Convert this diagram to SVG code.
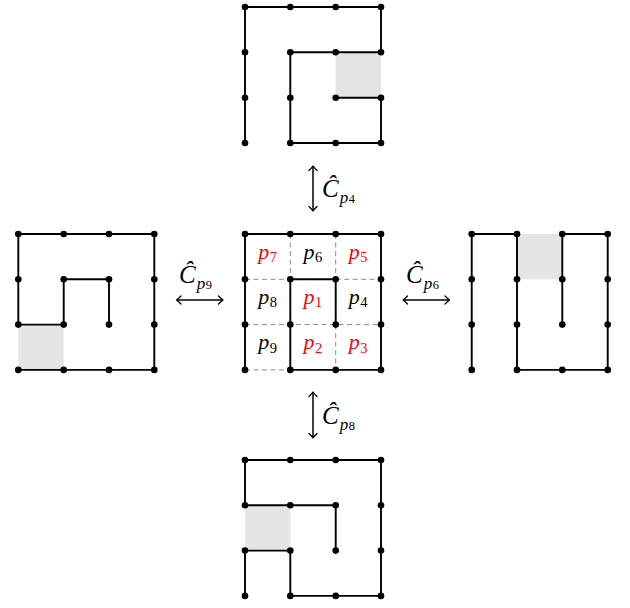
<svg xmlns="http://www.w3.org/2000/svg" width="630" height="608" viewBox="0 0 630 608">
<style>
.path{fill:none;stroke:#000;stroke-width:1.9;stroke-linejoin:miter;stroke-linecap:butt}
.dash{fill:none;stroke:#808080;stroke-width:0.9;stroke-dasharray:5 3.5}
.shade{fill:#e5e5e5}
.dot{fill:#000}
.arr{fill:none;stroke:#000;stroke-width:1.5}
.head{fill:none;stroke:#000;stroke-width:1.3;stroke-linecap:round;stroke-linejoin:round}
.lab{font-family:"Liberation Serif","DejaVu Serif",serif;font-size:22px}
.big{font-family:"Liberation Serif","DejaVu Serif",serif;font-size:25px}
.red{fill:#f00}
.blk{fill:#000}
</style>
<defs>
<circle id="d" r="3.3" class="dot"/>
</defs>
<rect width="630" height="608" fill="#fff"/>

<g id="top">
<rect class="shade" x="335.7" y="52.3" width="45.3" height="45.4"/>
<polyline class="path" points="245,143 245,7 381,7 381,52.3 290.3,52.3 290.3,143 381,143 381,97.7 335.7,97.7"/>
<g>
<use href="#d" x="245" y="7"/><use href="#d" x="290.3" y="7"/><use href="#d" x="335.7" y="7"/><use href="#d" x="381" y="7"/>
<use href="#d" x="245" y="52.3"/><use href="#d" x="290.3" y="52.3"/><use href="#d" x="335.7" y="52.3"/><use href="#d" x="381" y="52.3"/>
<use href="#d" x="245" y="97.7"/><use href="#d" x="290.3" y="97.7"/><use href="#d" x="335.7" y="97.7"/><use href="#d" x="381" y="97.7"/>
<use href="#d" x="245" y="143"/><use href="#d" x="290.3" y="143"/><use href="#d" x="335.7" y="143"/><use href="#d" x="381" y="143"/>
</g>
</g>

<g id="center">
<path class="dash" d="M290.3,234V279.3M335.7,234V279.3M245,279.3H290.3M335.7,279.3H381M245,324.6H381M335.7,324.6V369.9M245,369.9H290.3"/>
<polyline class="path" points="245,369.9 245,234 381,234 381,369.9 290.3,369.9 290.3,279.3 335.7,279.3 335.7,324.6"/>
<g>
<use href="#d" x="245" y="234"/><use href="#d" x="290.3" y="234"/><use href="#d" x="335.7" y="234"/><use href="#d" x="381" y="234"/>
<use href="#d" x="245" y="279.3"/><use href="#d" x="290.3" y="279.3"/><use href="#d" x="335.7" y="279.3"/><use href="#d" x="381" y="279.3"/>
<use href="#d" x="245" y="324.6"/><use href="#d" x="290.3" y="324.6"/><use href="#d" x="335.7" y="324.6"/><use href="#d" x="381" y="324.6"/>
<use href="#d" x="245" y="369.9"/><use href="#d" x="290.3" y="369.9"/><use href="#d" x="335.7" y="369.9"/><use href="#d" x="381" y="369.9"/>
</g>
<g class="lab">
<text class="red" x="267.5" y="258.7" text-anchor="middle"><tspan font-style="italic">p</tspan><tspan font-size="14.5" dx="0.5" dy="3.3">7</tspan></text>
<text class="blk" x="312.8" y="258.7" text-anchor="middle"><tspan font-style="italic">p</tspan><tspan font-size="14.5" dx="0.5" dy="3.3">6</tspan></text>
<text class="red" x="358.1" y="258.7" text-anchor="middle"><tspan font-style="italic">p</tspan><tspan font-size="14.5" dx="0.5" dy="3.3">5</tspan></text>
<text class="blk" x="267.5" y="304" text-anchor="middle"><tspan font-style="italic">p</tspan><tspan font-size="14.5" dx="0.5" dy="3.3">8</tspan></text>
<text class="red" x="312.8" y="304" text-anchor="middle"><tspan font-style="italic">p</tspan><tspan font-size="14.5" dx="0.5" dy="3.3">1</tspan></text>
<text class="blk" x="358.1" y="304" text-anchor="middle"><tspan font-style="italic">p</tspan><tspan font-size="14.5" dx="0.5" dy="3.3">4</tspan></text>
<text class="blk" x="267.5" y="349.3" text-anchor="middle"><tspan font-style="italic">p</tspan><tspan font-size="14.5" dx="0.5" dy="3.3">9</tspan></text>
<text class="red" x="312.8" y="349.3" text-anchor="middle"><tspan font-style="italic">p</tspan><tspan font-size="14.5" dx="0.5" dy="3.3">2</tspan></text>
<text class="red" x="358.1" y="349.3" text-anchor="middle"><tspan font-style="italic">p</tspan><tspan font-size="14.5" dx="0.5" dy="3.3">3</tspan></text>
</g>
</g>

<g id="left">
<rect class="shade" x="18.3" y="324.6" width="45.4" height="45.3"/>
<polyline class="path" points="109,324.6 109,279.3 63.7,279.3 63.7,324.6 18.3,324.6 18.3,234 154.3,234 154.3,369.9 18.3,369.9"/>
<g>
<use href="#d" x="18.3" y="234"/><use href="#d" x="63.7" y="234"/><use href="#d" x="109" y="234"/><use href="#d" x="154.3" y="234"/>
<use href="#d" x="18.3" y="279.3"/><use href="#d" x="63.7" y="279.3"/><use href="#d" x="109" y="279.3"/><use href="#d" x="154.3" y="279.3"/>
<use href="#d" x="18.3" y="324.6"/><use href="#d" x="63.7" y="324.6"/><use href="#d" x="109" y="324.6"/><use href="#d" x="154.3" y="324.6"/>
<use href="#d" x="18.3" y="369.9"/><use href="#d" x="63.7" y="369.9"/><use href="#d" x="109" y="369.9"/><use href="#d" x="154.3" y="369.9"/>
</g>
</g>

<g id="right">
<rect class="shade" x="517" y="234" width="45.3" height="45.3"/>
<polyline class="path" points="471.7,369.9 471.7,234 517,234 517,369.9 607.7,369.9 607.7,234 562.3,234 562.3,324.6"/>
<g>
<use href="#d" x="471.7" y="234"/><use href="#d" x="517" y="234"/><use href="#d" x="562.3" y="234"/><use href="#d" x="607.7" y="234"/>
<use href="#d" x="471.7" y="279.3"/><use href="#d" x="517" y="279.3"/><use href="#d" x="562.3" y="279.3"/><use href="#d" x="607.7" y="279.3"/>
<use href="#d" x="471.7" y="324.6"/><use href="#d" x="517" y="324.6"/><use href="#d" x="562.3" y="324.6"/><use href="#d" x="607.7" y="324.6"/>
<use href="#d" x="471.7" y="369.9"/><use href="#d" x="517" y="369.9"/><use href="#d" x="562.3" y="369.9"/><use href="#d" x="607.7" y="369.9"/>
</g>
</g>

<g id="bottom">
<rect class="shade" x="245" y="505.3" width="45.3" height="45.3"/>
<polyline class="path" points="245,595.9 245,550.6 290.3,550.6 290.3,595.9 381,595.9 381,460 245,460 245,505.3 335.7,505.3 335.7,550.6"/>
<g>
<use href="#d" x="245" y="460"/><use href="#d" x="290.3" y="460"/><use href="#d" x="335.7" y="460"/><use href="#d" x="381" y="460"/>
<use href="#d" x="245" y="505.3"/><use href="#d" x="290.3" y="505.3"/><use href="#d" x="335.7" y="505.3"/><use href="#d" x="381" y="505.3"/>
<use href="#d" x="245" y="550.6"/><use href="#d" x="290.3" y="550.6"/><use href="#d" x="335.7" y="550.6"/><use href="#d" x="381" y="550.6"/>
<use href="#d" x="245" y="595.9"/><use href="#d" x="290.3" y="595.9"/><use href="#d" x="335.7" y="595.9"/><use href="#d" x="381" y="595.9"/>
</g>
</g>

<g id="connectors">
<!-- top vertical -->
<path class="arr" d="M313,166.5V210.5"/>
<path class="head" d="M309,170.5Q312,167.5 313,166Q314,167.5 317,170.5"/>
<path class="head" d="M309,206.5Q312,209.5 313,211Q314,209.5 317,206.5"/>
<text class="big" x="322" y="197"><tspan font-style="italic">Ĉ</tspan><tspan font-size="17" dx="1" dy="6" font-style="italic">p</tspan><tspan font-size="12.5" dx="0.5">4</tspan></text>
<!-- bottom vertical -->
<path class="arr" d="M313,392.5V437.5"/>
<path class="head" d="M309,396.5Q312,393.5 313,392Q314,393.5 317,396.5"/>
<path class="head" d="M309,433.5Q312,436.5 313,438Q314,436.5 317,433.5"/>
<text class="big" x="322" y="424"><tspan font-style="italic">Ĉ</tspan><tspan font-size="17" dx="1" dy="6" font-style="italic">p</tspan><tspan font-size="12.5" dx="0.5">8</tspan></text>
<!-- left horizontal -->
<path class="arr" d="M177,300H222.5"/>
<path class="head" d="M181,296Q178,299 176.5,300Q178,301 181,304"/>
<path class="head" d="M218.5,296Q221.5,299 223,300Q221.5,301 218.5,304"/>
<text class="big" x="179" y="283"><tspan font-style="italic">Ĉ</tspan><tspan font-size="17" dx="1" dy="6" font-style="italic">p</tspan><tspan font-size="12.5" dx="0.5">9</tspan></text>
<!-- right horizontal -->
<path class="arr" d="M403.5,300H449"/>
<path class="head" d="M407.5,296Q404.5,299 403,300Q404.5,301 407.5,304"/>
<path class="head" d="M445,296Q448,299 449.5,300Q448,301 445,304"/>
<text class="big" x="406" y="283"><tspan font-style="italic">Ĉ</tspan><tspan font-size="17" dx="1" dy="6" font-style="italic">p</tspan><tspan font-size="12.5" dx="0.5">6</tspan></text>
</g>
</svg>
